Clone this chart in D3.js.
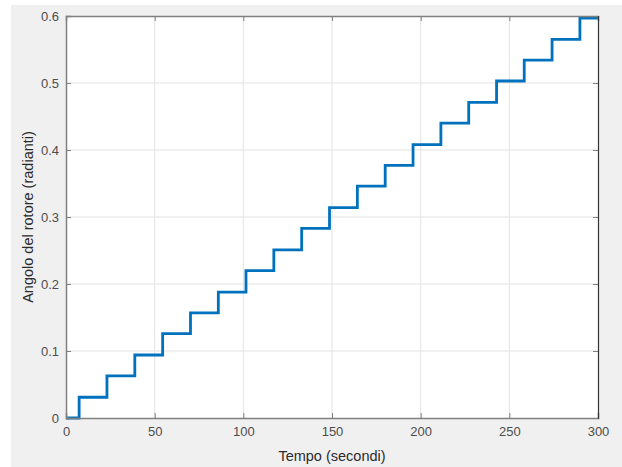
<!DOCTYPE html>
<html>
<head>
<meta charset="utf-8">
<script src="https://cdn.jsdelivr.net/npm/d3@7"></script>
<style>
  html, body { margin: 0; padding: 0; background: #fff; }
  svg { display: block; }
  .tick text { font-family: "Liberation Sans", Arial, sans-serif; font-size: 13px; fill: #4d4d4d; }
</style>
</head>
<body>
<div id="chart"></div>
<script>
// ── DATA ─────────────────────────────────────────────────────────────────────
// time (s) at which the rotor angle steps up
const stepTimes = [7.4, 23.1, 38.8, 54.5, 70.2, 85.9, 101.5, 117.2, 132.9, 148.6,
                   164.3, 180.0, 195.7, 211.4, 227.1, 242.8, 258.4, 274.1, 289.8];
// angle level after each step (first value = level before first step)
const stepLevels = [0, 0.031, 0.063, 0.094, 0.126, 0.157, 0.188, 0.220, 0.251, 0.283,
                    0.314, 0.346, 0.377, 0.408, 0.440, 0.471, 0.503, 0.534, 0.565, 0.597];
const xTicks = [0, 50, 100, 150, 200, 250, 300];
const yTicks = [0, 0.1, 0.2, 0.3, 0.4, 0.5, 0.6];

// ── DIMENSIONS ───────────────────────────────────────────────────────────────
const W = 622, H = 467;
const margin = { top: 16, right: 24, bottom: 49, left: 66 };
const width  = W - margin.left - margin.right;
const height = H - margin.top  - margin.bottom;

const svg = d3.select('#chart').append('svg')
  .attr('width', W).attr('height', H);

// figure background
svg.append('rect')
  .attr('x', 11).attr('y', 5)
  .attr('width', W - 11).attr('height', H - 5)
  .attr('fill', '#f0f0f0');

const g = svg.append('g')
  .attr('transform', `translate(${margin.left},${margin.top})`);

g.append('rect')
  .attr('width', width).attr('height', height)
  .attr('fill', '#fff');

// ── SCALES ───────────────────────────────────────────────────────────────────
const x = d3.scaleLinear().domain([0, 300]).range([0, width]);
const y = d3.scaleLinear().domain([0, 0.6]).range([height, 0]);

// ── GRID ─────────────────────────────────────────────────────────────────────
g.append('g').selectAll('line')
  .data(xTicks.slice(1, -1))
  .join('line')
    .attr('x1', d => x(d)).attr('x2', d => x(d))
    .attr('y1', 0).attr('y2', height)
    .attr('stroke', '#e3e3e3').attr('stroke-width', 1);

g.append('g').selectAll('line')
  .data(yTicks.slice(1, -1))
  .join('line')
    .attr('x1', 0).attr('x2', width)
    .attr('y1', d => y(d)).attr('y2', d => y(d))
    .attr('stroke', '#e3e3e3').attr('stroke-width', 1);

// ── LINE ─────────────────────────────────────────────────────────────────────
const points = [{ t: 0, v: stepLevels[0] }];
stepTimes.forEach((t, i) => points.push({ t, v: stepLevels[i + 1] }));
points.push({ t: 300, v: stepLevels[stepLevels.length - 1] });

const line = d3.line()
  .x(d => x(d.t))
  .y(d => y(d.v))
  .curve(d3.curveStepAfter);

g.append('path')
  .datum(points)
  .attr('d', line)
  .attr('fill', 'none')
  .attr('stroke', '#0072bd')
  .attr('stroke-width', 2.8)
  .attr('stroke-linejoin', 'miter');

// ── AXES ─────────────────────────────────────────────────────────────────────
const axisColor = '#808080';

const xAxis = g.append('g')
  .attr('transform', `translate(0,${height})`)
  .call(d3.axisBottom(x).tickValues(xTicks).tickSize(-5).tickPadding(9).tickFormat(d3.format('d')));

const yAxis = g.append('g')
  .call(d3.axisLeft(y).tickValues(yTicks).tickSize(-5).tickPadding(7).tickFormat(d => d === 0 ? '0' : d3.format('.1f')(d)));

// top and right tick marks (box)
const xTop = g.append('g')
  .call(d3.axisTop(x).tickValues(xTicks).tickSize(-5).tickFormat(''));
const yRight = g.append('g')
  .attr('transform', `translate(${width},0)`)
  .call(d3.axisRight(y).tickValues(yTicks).tickSize(-5).tickFormat(''));

[xAxis, yAxis, xTop].forEach(a => {
  a.select('.domain').attr('stroke', axisColor).attr('stroke-width', 1.5);
  a.selectAll('.tick line').attr('stroke', axisColor);
});
yRight.select('.domain').attr('stroke', '#333').attr('stroke-width', 1.2);
yRight.selectAll('.tick line').attr('stroke', axisColor);

// ── LABELS ───────────────────────────────────────────────────────────────────
g.append('text')
  .attr('x', width / 2)
  .attr('y', height + 43)
  .attr('text-anchor', 'middle')
  .attr('font-family', 'Liberation Sans, Arial, sans-serif')
  .attr('font-size', '14.5px')
  .attr('fill', '#2b2b2b')
  .text('Tempo (secondi)');

g.append('text')
  .attr('transform', 'rotate(-90)')
  .attr('x', -height / 2)
  .attr('y', -33)
  .attr('text-anchor', 'middle')
  .attr('font-family', 'Liberation Sans, Arial, sans-serif')
  .attr('font-size', '14.5px')
  .attr('fill', '#2b2b2b')
  .text('Angolo del rotore (radianti)');
</script>
</body>
</html>
